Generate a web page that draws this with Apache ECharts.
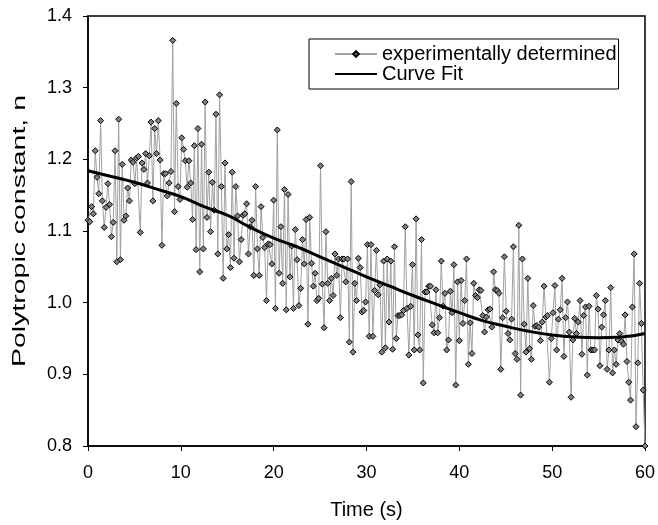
<!DOCTYPE html>
<html>
<head>
<meta charset="utf-8">
<script src="https://cdn.jsdelivr.net/npm/echarts@6/dist/echarts.min.js"></script>
<style>
html,body{margin:0;padding:0;background:#fff;}
#chart{width:658px;height:525px;}
</style>
</head>
<body>
<div id="chart"></div>
<script>
// Experimental polytropic constant readings, evenly sampled from 0 s to 60 s
const experimental = [
1.115, 1.113, 1.134, 1.124, 1.212, 1.175, 1.152, 1.254, 1.142, 1.105,
1.133, 1.166, 1.137, 1.092, 1.112, 1.212, 1.057, 1.256, 1.060, 1.193,
1.115, 1.121, 1.160, 1.142, 1.199, 1.196, 1.166, 1.202, 1.204, 1.098,
1.195, 1.186, 1.208, 1.167, 1.205, 1.252, 1.142, 1.243, 1.208, 1.254,
1.199, 1.080, 1.180, 1.180, 1.149, 1.167, 1.183, 1.366, 1.127, 1.278,
1.162, 1.144, 1.230, 1.214, 1.198, 1.161, 1.198, 1.167, 1.116, 1.219,
1.074, 1.243, 1.043, 1.221,
1.075, 1.280, 1.119, 1.182, 1.099, 1.168, 1.129, 1.263, 1.068, 1.290,
1.162, 1.034, 1.195, 1.075, 1.095, 1.049, 1.182, 1.062, 1.162, 1.121,
1.057, 1.088, 1.122, 1.124, 1.138, 1.068, 1.106, 1.115, 1.038, 1.162,
1.075, 1.038, 1.134, 1.091, 1.077, 1.003, 1.082, 1.081, 1.054, 1.143,
0.992, 1.241, 1.041, 1.106, 1.027, 1.158, 0.990, 1.151, 1.036, 1.079,
0.992, 1.102, 1.060, 0.996, 1.020, 1.088, 1.054, 1.116, 0.970, 1.119,
1.055, 1.023, 1.041, 1.003, 1.006, 1.191, 1.026, 0.965, 1.099, 1.027,
1.003, 1.034, 1.010, 1.068, 1.038, 1.061, 0.979,
1.061, 1.061, 1.029, 1.061, 0.945, 1.169, 0.931, 1.027, 1.003, 1.062,
1.049, 0.987, 0.989, 1.001, 1.081, 0.953, 1.081, 0.953, 1.017, 1.073,
1.011, 1.025, 0.931, 1.058, 0.937, 1.061, 0.973, 1.058, 0.935, 1.078,
0.950, 0.982, 0.982, 0.983, 0.989, 1.106, 0.992, 0.927, 0.995, 1.053,
0.934, 1.117, 0.955, 0.934, 1.088, 0.888, 1.015, 1.015, 1.023, 1.023,
0.969, 0.958, 1.018, 0.958, 0.979, 1.058, 0.995, 1.013, 0.934, 0.948,
1.016, 0.986, 1.053, 0.885, 1.029, 0.947, 1.031, 0.971, 1.003, 1.061,
0.914, 0.972, 0.929, 1.027, 1.010,
1.007, 1.018, 1.017, 0.982, 0.959, 0.980, 0.990, 0.991, 0.966, 1.043,
1.018, 1.017, 1.013, 0.907, 0.979, 1.064, 0.988, 0.957, 0.948, 0.977,
1.078, 0.929, 0.921, 1.108, 0.871, 1.061, 0.970, 0.931, 1.034, 0.936,
0.921, 0.996, 0.967, 0.968, 0.966, 0.947, 0.973, 1.023, 0.980, 0.982,
0.889, 0.950, 0.986, 1.024, 0.934, 0.977, 0.990, 1.034, 0.925, 0.979,
1.001, 0.959, 0.868, 0.948, 0.978, 0.957, 0.973, 1.003, 0.928, 0.982,
0.994, 0.899, 0.995, 0.934, 0.934, 0.934, 1.010, 0.991, 0.912, 0.966,
0.983, 1.003, 0.907, 0.934, 1.021, 0.902, 0.934, 0.914, 0.948, 0.957,
0.946, 0.942, 0.983, 0.918, 0.889, 0.864, 0.994, 1.068, 0.827, 0.916,
1.027, 0.971, 0.878, 0.800
];
const startTime = 0;
const endTime = 60;

// Curve fit values
const fitTimes = [0, 2.5, 5, 7.5, 10, 12.5, 15, 17.5, 20, 22.5, 25, 27.5, 30, 32.5, 35, 37.5, 40, 42.5, 45, 47.5, 50, 52.5, 55, 57.5, 60];
const fitValues = [1.184, 1.176, 1.168, 1.158, 1.148, 1.134, 1.122, 1.105, 1.090, 1.078, 1.064, 1.050, 1.036, 1.023, 1.010, 0.998, 0.986, 0.975, 0.967, 0.960, 0.955, 0.952, 0.951, 0.952, 0.957];

const xTicks = [0, 10, 20, 30, 40, 50, 60];
const yTicks = [0.8, 0.9, 1.0, 1.1, 1.2, 1.3, 1.4];

const seriesNames = ['experimentally determined', 'Curve Fit'];
const xTitle = 'Time (s)';
const yTitle = 'Polytropic constant, n';

const step = (endTime - startTime) / (experimental.length - 1);
const expData = experimental.map((v, i) => [startTime + i * step, v]);
const fitData = fitTimes.map((t, i) => [t, fitValues[i]]);

const FONT = 'Arial, "Liberation Sans", sans-serif';
const GRID = {left: 88, right: 11, top: 16, bottom: 79};
const chart = echarts.init(document.getElementById('chart'), null, {renderer: 'canvas'});
chart.setOption({
  animation: false,
  backgroundColor: '#fff',
  grid: Object.assign({show: true, borderColor: '#000', borderWidth: 1.5, backgroundColor: 'transparent'}, GRID),
  legend: {
    data: [
      {name: seriesNames[0]},
      {name: seriesNames[1], itemStyle: {opacity: 0}}
    ],
    orient: 'vertical',
    left: 309, top: 39,
    backgroundColor: '#fff',
    borderColor: '#000', borderWidth: 1,
    padding: [5, 2, 5, 25],
    itemGap: 0,
    itemWidth: 42, itemHeight: 7,
    textStyle: {fontFamily: FONT, fontSize: 20, color: '#000'}
  },
  graphic: [{
    type: 'text',
    x: 20, y: GRID.top + (525 - GRID.top - GRID.bottom) / 2,
    rotation: Math.PI / 2,
    scaleX: 1.58,
    style: {text: yTitle, fontFamily: FONT, fontSize: 18, fill: '#000', align: 'center', verticalAlign: 'middle'}
  }],
  xAxis: {
    type: 'value', min: xTicks[0], max: xTicks[xTicks.length - 1], interval: xTicks[1] - xTicks[0],
    name: xTitle, nameLocation: 'middle', nameGap: 54,
    nameTextStyle: {fontFamily: FONT, fontSize: 20, color: '#000'},
    axisLine: {lineStyle: {color: '#000', width: 1.5}},
    axisTick: {show: true, inside: false, length: 5, lineStyle: {color: '#000', width: 1}},
    axisLabel: {margin: 18, fontFamily: FONT, fontSize: 18, color: '#000'},
    splitLine: {show: false}
  },
  yAxis: {
    type: 'value', min: yTicks[0], max: yTicks[yTicks.length - 1], interval: 0.1,
    axisLine: {show: true, lineStyle: {color: '#000', width: 1.5}},
    axisTick: {show: true, inside: false, length: 5, lineStyle: {color: '#000', width: 1}},
    axisLabel: {margin: 16, fontFamily: FONT, fontSize: 18, color: '#000', formatter: v => v.toFixed(1)},
    splitLine: {show: false}
  },
  series: [
    {
      name: seriesNames[0], type: 'line', data: expData,
      symbol: 'diamond', symbolSize: 6, showAllSymbol: true,
      lineStyle: {color: '#a0a0a0', width: 1},
      itemStyle: {color: '#808080', borderColor: '#000', borderWidth: 1},
      z: 2
    },
    {
      name: seriesNames[1], type: 'line', data: fitData,
      smooth: true, symbol: 'none',
      lineStyle: {color: '#000', width: 3},
      itemStyle: {color: '#000'},
      z: 3
    }
  ]
});
</script>
</body>
</html>
